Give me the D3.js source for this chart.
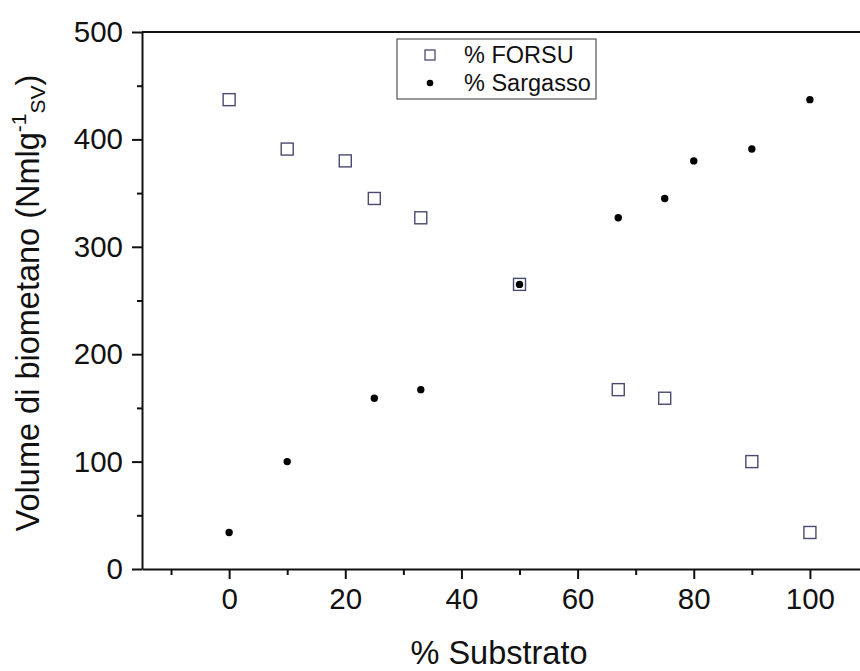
<!DOCTYPE html>
<html>
<head>
<meta charset="utf-8">
<script src="https://cdn.jsdelivr.net/npm/d3@7"></script>
<style>
  html, body { margin: 0; padding: 0; background: #fff; }
  svg { display: block; font-family: "Liberation Sans", Arial, sans-serif; }
</style>
</head>
<body>
<svg id="chart" width="860" height="671"></svg>
<script>
// % substrate composition (x) and biomethane volume (y)
const forsuX = [0, 10, 20, 25, 33, 50, 67, 75, 90, 100];
const forsuY = [437, 391, 380, 345, 327, 265, 167, 159, 100, 34];
const sargassoX = [0, 10, 25, 33, 50, 67, 75, 80, 90, 100];
const sargassoY = [34, 100, 159, 167, 265, 327, 345, 380, 391, 437];
const xTicks = [0, 20, 40, 60, 80, 100];
const xMinorTicks = [-10, 10, 30, 50, 70, 90];
const yTicks = [0, 100, 200, 300, 400, 500];
const yMinorTicks = [50, 150, 250, 350, 450];
const seriesNames = ["% FORSU", "% Sargasso"];

const svg = d3.select("#chart");
const plotLeft = 142, plotRight = 868, plotTop = 32, plotBottom = 569;

const x = d3.scaleLinear().domain([-15, 110]).range([plotLeft, plotRight]);
const y = d3.scaleLinear().domain([0, 500]).range([plotBottom, plotTop]);

const axisColor = "#111";

// bottom axis
const gx = svg.append("g").attr("transform", `translate(0,${plotBottom})`);
gx.call(d3.axisBottom(x).tickValues(xTicks).tickSize(10).tickSizeOuter(0).tickPadding(9));
gx.append("g").call(d3.axisBottom(x).tickValues(xMinorTicks).tickSize(6).tickFormat(""))
  .call(g => g.select(".domain").remove());

// left axis
const gy = svg.append("g").attr("transform", `translate(${plotLeft},0)`);
gy.call(d3.axisLeft(y).tickValues(yTicks).tickSize(10).tickSizeOuter(0).tickPadding(9));
gy.append("g").call(d3.axisLeft(y).tickValues(yMinorTicks).tickSize(5).tickFormat(""))
  .call(g => g.select(".domain").remove());

svg.selectAll(".domain").attr("stroke", axisColor).attr("stroke-width", 2);
svg.selectAll(".tick line").attr("stroke", axisColor).attr("stroke-width", 2);
svg.selectAll(".tick text").attr("font-size", 29.5).attr("fill", "#111")
  .attr("font-family", "'Liberation Sans', Arial, sans-serif");

// top frame line
svg.append("line")
  .attr("x1", plotLeft).attr("x2", plotRight)
  .attr("y1", y(500)).attr("y2", y(500))
  .attr("stroke", axisColor).attr("stroke-width", 2);

// axis titles
svg.append("text")
  .attr("x", 499).attr("y", 664)
  .attr("text-anchor", "middle")
  .attr("font-size", 32.5).attr("fill", "#111")
  .text("% Substrato");

const yl = svg.append("text")
  .attr("transform", "translate(39,303) rotate(-90)")
  .attr("text-anchor", "middle")
  .attr("font-size", 32.5).attr("fill", "#111");
yl.append("tspan").text("Volume di biometano (Nmlg");
yl.append("tspan").attr("font-size", 21).attr("dy", -13).text("-1");
yl.append("tspan").attr("font-size", 21).attr("dy", 19).text("SV");
yl.append("tspan").attr("dy", -6).text(")");

// FORSU: open squares
const sq = 12;
svg.append("g").selectAll("rect")
  .data(forsuX.map((v, i) => [v, forsuY[i]]))
  .join("rect")
  .attr("x", d => x(d[0]) - sq / 2)
  .attr("y", d => y(d[1]) - sq / 2)
  .attr("width", sq).attr("height", sq)
  .attr("fill", "none")
  .attr("stroke", "#4a4a70")
  .attr("stroke-width", 1.4);

// Sargasso: filled dots
svg.append("g").selectAll("circle")
  .data(sargassoX.map((v, i) => [v, sargassoY[i]]))
  .join("circle")
  .attr("cx", d => x(d[0]))
  .attr("cy", d => y(d[1]))
  .attr("r", 3.7)
  .attr("fill", "#000");

// legend
const lg = svg.append("g");
lg.append("rect")
  .attr("x", 397).attr("y", 39).attr("width", 199).attr("height", 60)
  .attr("fill", "#fff").attr("stroke", "#555").attr("stroke-width", 1.2);
lg.append("rect")
  .attr("x", 430 - 5).attr("y", 55 - 5).attr("width", 10).attr("height", 10)
  .attr("fill", "none").attr("stroke", "#4a4a70").attr("stroke-width", 1.3);
lg.append("circle").attr("cx", 430).attr("cy", 83).attr("r", 3.3).attr("fill", "#000");
lg.selectAll("text.lab")
  .data(seriesNames)
  .join("text")
  .attr("class", "lab")
  .attr("x", 464)
  .attr("y", (d, i) => 63 + i * 28)
  .attr("font-size", 23.5).attr("fill", "#111")
  .text(d => d);
</script>
</body>
</html>
